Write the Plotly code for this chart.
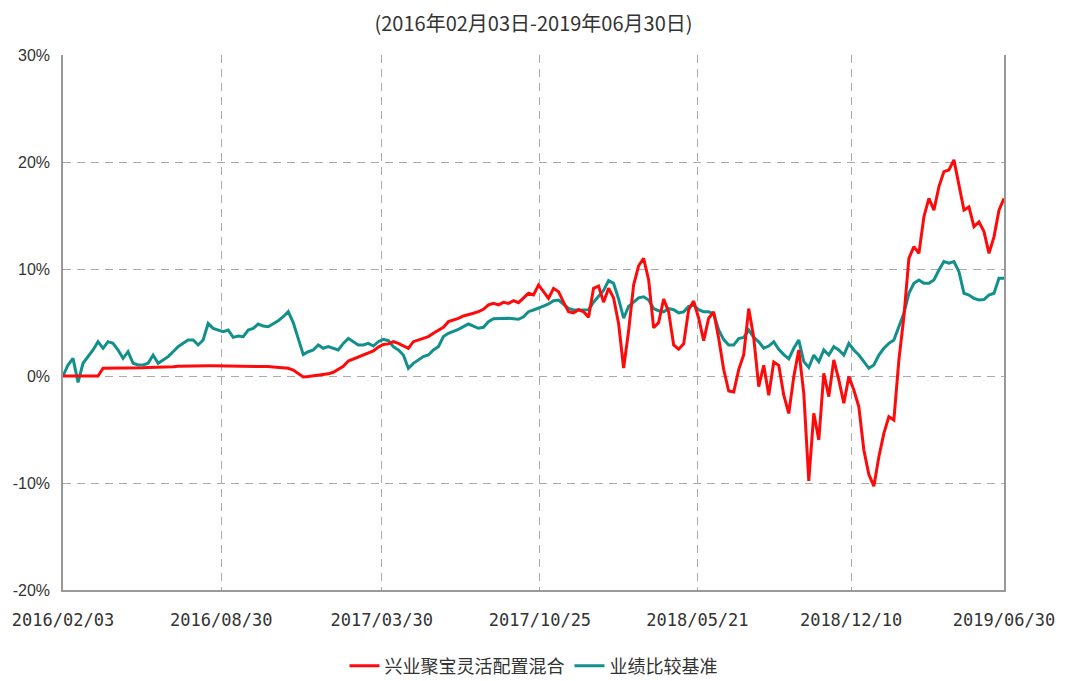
import plotly.graph_objects as go
import pandas as pd

title_text = "(2016年02月03日-2019年06月30日)"
period_start = "2016-02-03"
period_end = "2019-06-30"
fund_name = "兴业聚宝灵活配置混合"
bench_name = "业绩比较基准"

# cumulative return (%), evenly spaced over the period
fund_returns = [
    0, 0, 0, 0, 0, 0, 0, 0,
    0.72, 0.72, 0.72, 0.72, 0.74, 0.75, 0.75, 0.77, 0.78, 0.80, 0.80, 0.82, 0.84, 0.85, 0.87,
    0.90, 0.92, 0.93, 0.93, 0.94, 0.94, 0.95, 0.95, 0.95, 0.94, 0.95, 0.95, 0.94, 0.94, 0.93, 0.93, 0.92,
    0.90, 0.88, 0.85, 0.82, 0.78, 0.72, 0.55, 0.25, -0.10, -0.05, 0.00, 0.10, 0.15, 0.20, 0.35, 0.60,
    0.90, 1.40, 1.60, 1.80, 1.95, 2.15, 2.35, 2.70, 2.95, 3.00,
    3.21, 3.05, 2.80, 2.59, 3.21, 3.36, 3.52, 3.68, 3.99, 4.30,
    4.55, 5.08, 5.23, 5.39, 5.61, 5.70, 5.86, 6.01, 6.23, 6.64,
    6.79, 6.64, 6.88, 6.79, 7.04, 6.85, 7.26, 7.73, 7.57, 8.50,
    7.88, 7.26, 8.19, 7.88, 6.90, 6.00, 5.90, 6.20, 6.00, 5.50,
    8.20, 8.40, 6.90, 8.20, 7.30, 4.90, 0.75, 4.20, 8.50, 10.30,
    11.00, 9.00, 4.50, 5.00, 7.20, 6.00, 2.90, 2.50, 3.00, 6.20,
    7.00, 5.40, 3.30, 5.40,
    6.0, 3.5, 0.6, -1.4, -1.5, 0.6, 2.0, 6.3, 3.6, -1.0,
    1.0, -1.8, 1.3, 1.0, -1.8, -3.5, -0.06, 2.43, -1.62, -9.8,
    -3.49, -5.98, 0.25, -1.93, 1.50, -0.37, -2.55, -0.06, -1.31, -2.87,
    -6.92, -9.2, -10.3, -7.54, -5.36, -3.80, -4.11, 1.5, 5.54, 11.0,
    12.09, 11.46, 14.89, 16.6, 15.5, 17.7, 19.1, 19.25, 20.2, 17.85,
    15.5, 15.8, 13.96, 14.4, 13.5, 11.46, 13.0, 15.5, 16.6,
]

bench_returns = [
    0.0, 1.03, 1.65, -0.6, 1.19, 1.81, 2.43, 3.21, 2.59, 3.21,
    3.05, 2.43, 1.65, 2.27, 1.19, 1.03, 1.03, 1.19, 1.96, 1.19,
    1.50, 1.81, 2.27, 2.74, 3.05, 3.36, 3.36, 2.90, 3.36, 4.92,
    4.45, 4.30, 4.14, 4.30, 3.61, 3.74, 3.68, 4.30, 4.45, 4.86,
    4.67, 4.61, 4.86, 5.17, 5.54, 6.01, 5.00, 3.40, 2.00, 2.27,
    2.43, 2.90, 2.59, 2.74, 2.59, 2.43, 3.05, 3.52, 3.21, 2.90,
    2.90, 3.05, 2.80, 3.21, 3.43, 3.30,
    2.74, 2.43, 1.96, 0.72, 1.18, 1.50, 1.81, 1.96, 2.43, 2.74,
    3.68, 3.99, 4.14, 4.36, 4.61, 4.86, 4.67, 4.46, 4.55, 5.08,
    5.36, 5.39, 5.39, 5.39, 5.36, 5.30, 5.54, 6.01, 6.17, 6.32,
    6.54, 6.73, 7.04, 7.10, 6.70, 6.32, 6.17, 6.17, 6.23, 6.20,
    6.90, 7.50, 8.00, 8.91, 8.66, 7.20, 5.40, 6.50, 6.90, 7.30,
    7.40, 7.10, 6.30, 6.10, 6.00, 6.30, 6.20, 5.90, 6.00, 6.50,
    6.60, 6.20, 6.00, 6.00,
    5.8, 4.3, 3.4, 2.9, 2.9, 3.5, 3.6, 4.3, 3.6, 3.2,
    2.6, 2.8, 3.2, 2.5, 2.0, 1.6, 2.59, 3.36, 1.34, 0.8,
    1.96, 1.34, 2.43, 1.96, 2.74, 2.43, 1.96, 3.05, 2.43, 1.96,
    1.34, 0.72, 1.03, 1.96, 2.59, 3.05, 3.36, 4.61, 5.86, 7.73,
    8.66, 8.97, 8.66, 8.66, 8.97, 9.91, 10.7, 10.55, 10.7, 9.75,
    7.73, 7.57, 7.26, 7.10, 7.15, 7.57, 7.73, 9.13, 9.13,
]

x_tick_labels = ["2016/02/03", "2016/08/30", "2017/03/30", "2017/10/25",
                 "2018/05/21", "2018/12/10", "2019/06/30"]
y_tick_values = [-20, -10, 0, 10, 20, 30]
y_tick_labels = ["-20%", "-10%", "0%", "10%", "20%", "30%"]

dates = pd.date_range(period_start, period_end, periods=len(fund_returns))
tick_dates = [pd.Timestamp(s.replace("/", "-")) for s in x_tick_labels]

fig = go.Figure()
fig.add_trace(go.Scatter(
    x=dates, y=bench_returns, mode="lines", name=bench_name,
    line=dict(color="#12908C", width=3), legendrank=2,
))
fig.add_trace(go.Scatter(
    x=dates, y=fund_returns, mode="lines", name=fund_name,
    line=dict(color="#FF0A0A", width=3), legendrank=1,
))

fig.update_layout(
    width=1079, height=681,
    margin=dict(l=55, r=83, t=47, b=99, autoexpand=False),
    paper_bgcolor="white", plot_bgcolor="white",
    title=dict(text=title_text, x=0.5, xref="paper", y=1 - 16 / 681, yanchor="middle",
               font=dict(family="Noto Sans CJK SC", size=20, color="#333333")),
    showlegend=True,
    legend=dict(orientation="h", x=0.5, xanchor="center", y=-0.142, yanchor="middle",
                font=dict(family="Noto Sans CJK SC", size=18, color="#333"),
                traceorder="normal"),
)
fig.update_xaxes(
    type="date", range=[period_start, period_end],
    tickmode="array", tickvals=tick_dates, ticktext=x_tick_labels,
    showgrid=True, gridcolor="#aaaaaa", griddash="8px,6px", gridwidth=1,
    showline=True, linecolor="#999999", linewidth=1.5, mirror=False,
    ticks="", tickfont=dict(family="DejaVu Sans Mono", size=17, color="#333"),
    ticklabelstandoff=14, zeroline=False,
)
fig.update_yaxes(
    range=[-20, 30], tickmode="array", tickvals=y_tick_values, ticktext=y_tick_labels,
    showgrid=True, gridcolor="#aaaaaa", griddash="8px,6px", gridwidth=1,
    showline=True, linecolor="#999999", linewidth=1.5, mirror=True,
    ticks="", tickfont=dict(family="Liberation Sans", size=16, color="#333"),
    ticklabelstandoff=8, zeroline=False,
)

fig.write_html("out.html")
